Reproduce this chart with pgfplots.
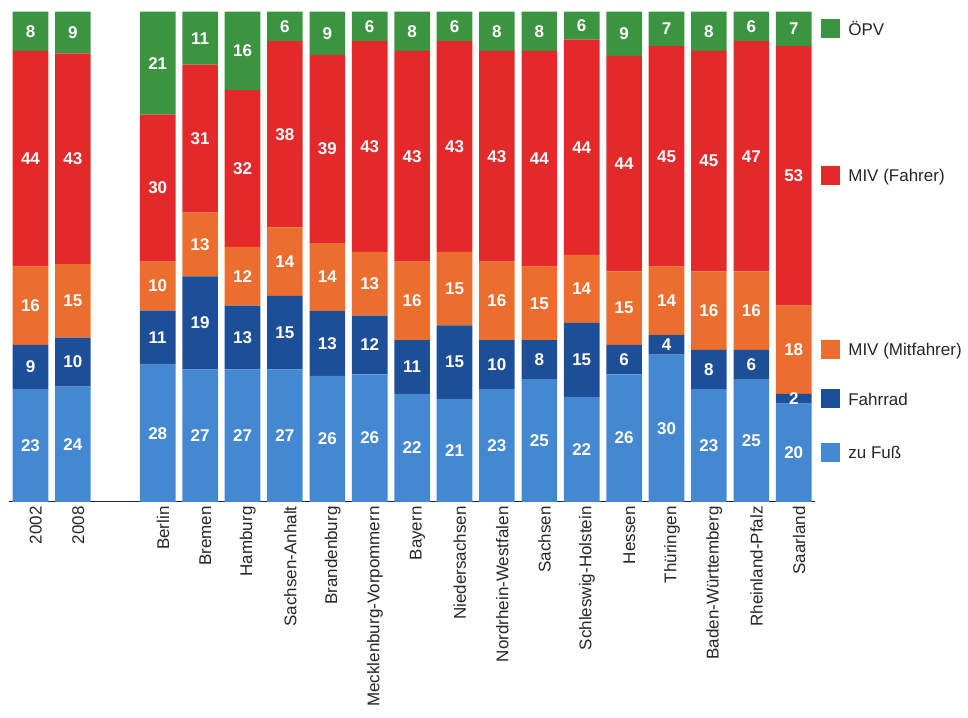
\documentclass[border=0pt]{standalone}
\usepackage{pgfplots}
\usepackage{pgfplotstable}
\pgfplotsset{compat=1.18}
\usepackage{fontspec}
\setmainfont{Liberation Sans}
\definecolor{opv}{HTML}{3A9440}
\definecolor{mivf}{HTML}{E4292A}
\definecolor{mivm}{HTML}{EB6E2E}
\definecolor{rad}{HTML}{1C4F97}
\definecolor{fuss}{HTML}{4388D1}
\definecolor{txt}{HTML}{262626}

% heights as drawn (bars normalised to 100) and printed labels
\pgfplotstableread{
x  fuss rad  mivm mivf opv  lfuss lrad lmivm lmivf lopv
0  23   9    16   44   8    23 9 16 44 8
1  23.5 10   15   43   8.5  24 10 15 43 9
3  28   11   10   30   21   28 11 10 30 21
4  27   19   13   30.2 10.8 27 19 13 31 11
5  27   13   12   32   16   27 13 12 32 16
6  27   15   14   38   6    27 15 14 38 6
7  25.7 13.2 13.9 38.4 8.8  26 13 14 39 9
8  26   12   13   43   6    26 12 13 43 6
9  22   11   16   43   8    22 11 16 43 8
10 21   15   15   43   6    21 15 15 43 6
11 23   10   16   43   8    23 10 16 43 8
12 25   8    15   44   8    25 8 15 44 8
13 21.4 15.1 13.9 43.9 5.7  22 15 14 44 6
14 26   6    15   44   9    26 6 15 44 9
15 30   4    14   45   7    30 4 14 45 7
16 23   8    16   45   8    23 8 16 45 8
17 25   6    16   47   6    25 6 16 47 6
18 20   2    18   53   7    20 2 18 53 7
}\modal

\pgfplotstableread{
x fuss rad mivm mivf opv
18 20 2 18 53 7
}\legtab

\newcommand{\labfont}{\fontsize{12.75}{14}\selectfont}
\newcommand{\legsq}[1]{\textcolor{#1}{\rule[-2.5pt]{14.25pt}{14.25pt}}\hspace{6pt}}

\pgfplotsset{
  common/.style={
    ybar stacked,
    scale only axis,
    width=604.2pt, height=367.5pt,
    xmin=-0.5, xmax=18.5, ymin=0, ymax=100,
    bar width=0.84,
    /pgf/number format/assume math mode=true,
  },
}

\begin{document}
\begin{tikzpicture}
\begin{axis}[
  common,
  point meta=explicit,
  axis x line*=bottom,
  axis y line=none,
  x axis line style={draw=txt, line width=0.8pt, -},
  xtick={0,1,3,4,5,6,7,8,9,10,11,12,13,14,15,16,17,18},
  xticklabels={2002,2008,Berlin,Bremen,Hamburg,Sachsen-Anhalt,Brandenburg,Mecklenburg-Vorpommern,Bayern,Niedersachsen,Nordrhein-Westfalen,Sachsen,Schleswig-Holstein,Hessen,Thüringen,Baden-Württemberg,Rheinland-Pfalz,Saarland},
  xtick style={draw=none},
  ytick=\empty,
  xticklabel style={rotate=90, anchor=east, font=\labfont, text=txt, yshift=-4pt},
  nodes near coords,
  nodes near coords style={font=\labfont\bfseries, text=white, anchor=center},
]
\addplot[fill=fuss, draw=none] table[x=x,y=fuss,meta=lfuss]{\modal};
\addplot[fill=rad, draw=none] table[x=x,y=rad,meta=lrad]{\modal};
\addplot[fill=mivm, draw=none] table[x=x,y=mivm,meta=lmivm]{\modal};
\addplot[fill=mivf, draw=none] table[x=x,y=mivf,meta=lmivf]{\modal};
\addplot[fill=opv, draw=none] table[x=x,y=opv,meta=lopv]{\modal};
\coordinate (bl) at (rel axis cs:0,0);
\end{axis}
\begin{axis}[
  common,
  hide axis,
  clip=false,
  every node near coord/.append style={font=\labfont, text=txt, anchor=west, inner sep=0pt, xshift=20.5pt},
]
\addplot[draw=none, fill=none, nodes near coords={\legsq{fuss}zu Fuß}] table[x=x,y=fuss]{\legtab};
\addplot[draw=none, fill=none, nodes near coords={\legsq{rad}Fahrrad}] table[x=x,y=rad]{\legtab};
\addplot[draw=none, fill=none, nodes near coords={\legsq{mivm}MIV (Mitfahrer)}] table[x=x,y=mivm]{\legtab};
\addplot[draw=none, fill=none, nodes near coords={\legsq{mivf}MIV (Fahrer)}] table[x=x,y=mivf]{\legtab};
\addplot[draw=none, fill=none, nodes near coords={\legsq{opv}ÖPV}] table[x=x,y=opv]{\legtab};
\end{axis}
\pgfresetboundingbox
\path ([shift={(-6.975pt,-161.5pt)}]bl) rectangle ([shift={(719.0pt,376.3pt)}]bl);
\end{tikzpicture}
\end{document}
